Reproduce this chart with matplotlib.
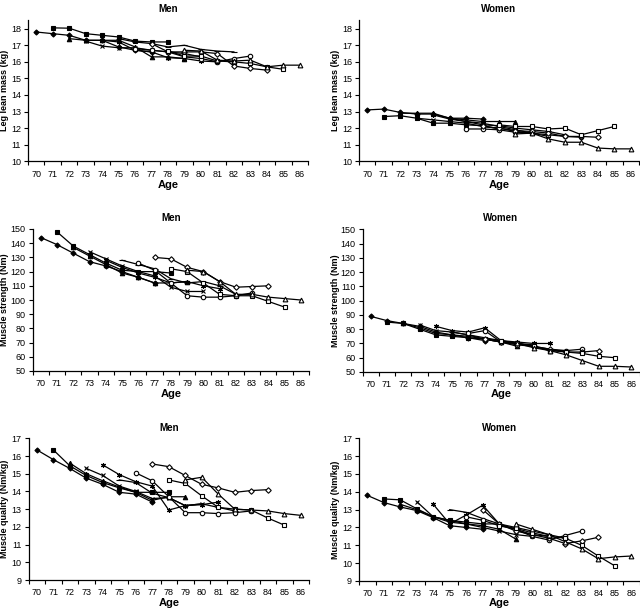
import matplotlib
matplotlib.use("Agg")
import matplotlib.pyplot as plt
import numpy as np

plt.rcParams['font.family'] = ['Liberation Sans', 'DejaVu Sans']

# cohorts: baseline age 70..79, followed for 8 yearly visits
start_age = [70, 71, 72, 73, 74, 75, 76, 77, 78, 79]
age_ticks = list(range(70, 87))

men_lean = [
    [17.8, 17.7, 17.6, 17.3, 17.3, 16.9, 16.7, 16.6],
    [18.05, 18.03, 17.7, 17.6, 17.5, 17.25, 17.2, 17.2],
    [17.4, 17.3, 17.3, 17.3, 16.9, 16.3, 16.3, 16.2],
    [17.25, 16.95, 16.85, 16.85, 16.7, 16.6, 16.5, 16.3],
    [17.3, 17.2, 16.7, 16.6, 16.25, 16.2, 16.05, 16.0],
    [17.4, 17.2, 17.1, 16.9, 17.0, 16.75, 16.65, 16.6],
    [16.8, 16.7, 16.6, 16.3, 16.2, 16.0, 16.2, 16.35],
    [17.1, 16.6, 16.6, 16.6, 16.5, 15.75, 15.6, 15.5],
    [16.65, 16.35, 16.35, 16.05, 16.0, 15.9, 15.7, 15.55],
    [16.7, 16.65, 16.1, 16.05, 16.1, 15.7, 15.8, 15.8],
]
women_lean = [
    [13.1, 13.15, 12.95, 12.85, 12.85, 12.6, 12.6, 12.55],
    [12.7, 12.75, 12.6, 12.3, 12.3, 12.2, 12.15, 11.95],
    [12.9, 12.9, 12.9, 12.6, 12.5, 12.4, 12.4, 12.4],
    [12.6, 12.5, 12.4, 12.3, 12.1, 12.0, 11.8, 11.7],
    [12.8, 12.55, 12.4, 12.3, 12.1, 11.9, 11.7, 11.5],
    [12.6, 12.4, 12.2, 12.15, 12.0, 11.9, 11.8, 11.6],
    [11.95, 11.95, 11.9, 11.75, 11.7, 11.6, 11.5, 11.45],
    [12.1, 12.0, 11.85, 11.8, 11.7, 11.5, 11.5, 11.45],
    [12.2, 12.1, 12.1, 11.95, 12.0, 11.6, 11.85, 12.1],
    [11.65, 11.7, 11.35, 11.15, 11.15, 10.8, 10.75, 10.75],
]
men_strength = [
    [144, 139, 133, 127, 124, 120, 116, 112],
    [148, 138, 132, 126, 121, 120, 120, 119],
    [137, 131, 125, 119, 116, 112, 112, 113],
    [134, 129, 124, 120, 117, 109, 106, 106],
    [128, 123, 119, 116, 112, 113, 110, 108],
    [128, 125, 122, 115, 112, 113, 110, 104],
    [126, 121, 112, 103, 102, 102, 103, 105],
    [130, 129, 123, 120, 113, 109, 109.5, 110],
    [122, 120, 112, 104, 103, 103, 99, 95],
    [121, 120, 113, 104, 104, 102, 101, 100],
]
women_strength = [
    [89, 86, 84, 82, 78, 76, 74, 72],
    [85, 84, 80, 76, 75, 74, 73, 72],
    [84, 81, 77, 76, 75, 73, 71, 68],
    [83, 79, 78, 76, 73, 71, 70, 69],
    [82, 79, 78, 81, 72, 71, 70, 70],
    [78, 76, 74, 72, 70, 68, 66, 65],
    [77, 79, 71, 69, 68, 65, 65, 66],
    [73, 71, 70, 68, 66, 64, 64, 65],
    [72, 70, 68, 65, 64, 63, 61, 60],
    [70, 67, 65, 62, 58, 54, 54, 53.5],
]
men_quality = [
    [16.35, 15.8, 15.3, 14.75, 14.4, 13.95, 13.85, 13.4],
    [16.35, 15.45, 14.9, 14.5, 14.2, 13.95, 13.95, 13.95],
    [15.6, 15.0, 14.6, 14.25, 13.95, 13.5, 13.7, 13.7],
    [15.3, 14.9, 14.3, 14.0, 13.6, 13.65, 13.2, 13.3],
    [15.5, 14.95, 14.55, 14.3, 12.95, 13.2, 13.25, 13.4],
    [14.65, 14.5, 13.9, 13.65, 13.2, 13.3, 13.1, 12.9],
    [15.05, 14.6, 13.7, 12.8, 12.8, 12.75, 12.8, 12.9],
    [15.55, 15.4, 14.9, 14.4, 14.2, 13.95, 14.05, 14.1],
    [14.65, 14.45, 13.75, 13.1, 13.0, 12.95, 12.5, 12.1],
    [14.65, 14.8, 13.85, 13.0, 12.95, 12.9, 12.75, 12.65],
]
women_quality = [
    [13.8, 13.4, 13.15, 12.95, 12.55, 12.1, 12.0, 11.9],
    [13.6, 13.55, 13.05, 12.6, 12.4, 12.3, 12.2, 12.2],
    [13.3, 13.0, 12.6, 12.4, 12.2, 12.1, 11.9, 11.35],
    [13.45, 12.6, 12.3, 12.2, 12.0, 11.8, 11.6, 11.5],
    [13.3, 12.2, 12.7, 13.25, 12.2, 11.9, 11.6, 11.5],
    [13.0, 12.85, 12.5, 12.2, 12.0, 11.8, 11.6, 11.4],
    [12.6, 12.4, 12.1, 11.9, 11.5, 11.3, 11.55, 11.8],
    [13.0, 12.2, 11.8, 11.6, 11.4, 11.1, 11.25, 11.45],
    [12.1, 11.95, 11.7, 11.5, 11.4, 11.0, 10.4, 9.85],
    [12.2, 11.9, 11.6, 11.2, 10.8, 10.25, 10.35, 10.4],
]

# marker style per cohort (marker, filled, size)
styles = [('D', True, 2.6), ('s', True, 3.4), ('^', True, 3.2), ('x', True, 3.0),
          ((6, 2, 0), True, 3.6), ('_', True, 4.0), ('o', False, 3.2),
          ('D', False, 2.8), ('s', False, 3.4), ('^', False, 3.4)]

W, H = 640, 610
fig = plt.figure(figsize=(6.4, 6.1), dpi=100)

# panel: (x0, x1, ytop, ybottom) in pixels, data, ylim, yticks, title, ylabel, title y, age y, ylabel x
panels = [
    ((28, 308, 20.4, 161.3), men_lean, (10, 18.5), range(10, 19), 'Men', 'Leg lean mass (kg)', 4, 185, 5),
    ((359, 639, 20.4, 161.3), women_lean, (10, 18.5), range(10, 19), 'Women', 'Leg lean mass (kg)', 4, 185, 335),
    ((32.6, 309, 229, 371), men_strength, (50, 150), range(50, 151, 10), 'Men', 'Muscle strength (Nm)', 213, 394, 5),
    ((362.5, 639.5, 229.3, 372), women_strength, (50, 150), range(50, 151, 10), 'Women', 'Muscle strength (Nm)', 213, 394, 335),
    ((28.5, 309, 438.3, 580), men_quality, (9, 17), range(9, 18), 'Men', 'Muscle quality (Nm/kg)', 423, 603, 5),
    ((359, 639.5, 438.3, 581), women_quality, (9, 17), range(9, 18), 'Women', 'Muscle quality (Nm/kg)', 423, 603, 335),
]

for (x0, x1, yt, yb), data, ylim, yticks, title, ylabel, ty, ay, lx in panels:
    ax = fig.add_axes([x0 / W, 1 - yb / H, (x1 - x0) / W, (yb - yt) / H])
    for i, vals in enumerate(data):
        ages = np.arange(start_age[i], start_age[i] + len(vals))
        m, filled, ms = styles[i]
        ax.plot(ages, vals, color='black', lw=0.9, marker=m, ms=ms,
                mfc='black' if filled else 'white', mec='black', mew=0.8)
    ax.set_xlim(69.5, 86.5)
    ax.set_ylim(*ylim)
    ax.set_xticks(age_ticks)
    ax.set_xticks(np.arange(69.5, 87, 1), minor=True)
    ax.tick_params(axis='x', which='major', length=0, labelsize=6.5, pad=6)
    ax.tick_params(axis='x', which='minor', length=3, width=0.8, direction='out')
    ax.set_yticks(list(yticks))
    ax.tick_params(axis='y', length=3, width=0.8, labelsize=6.5, pad=2)
    for s in ['top', 'right']:
        ax.spines[s].set_visible(False)
    for s in ['left', 'bottom']:
        ax.spines[s].set_linewidth(0.9)
    cx = (x0 + x1) / 2 / W
    fig.text(lx / W, 1 - (yt + yb) / 2 / H, ylabel, rotation=90, ha='center', va='center',
             fontsize=6.5, fontweight='bold')
    fig.text(cx, 1 - ty / H, title, ha='center', va='top', fontsize=7, fontweight='bold')
    fig.text(cx, 1 - ay / H, 'Age', ha='center', va='center', fontsize=8, fontweight='bold')

fig.savefig('out.png', dpi=100, facecolor='white')
